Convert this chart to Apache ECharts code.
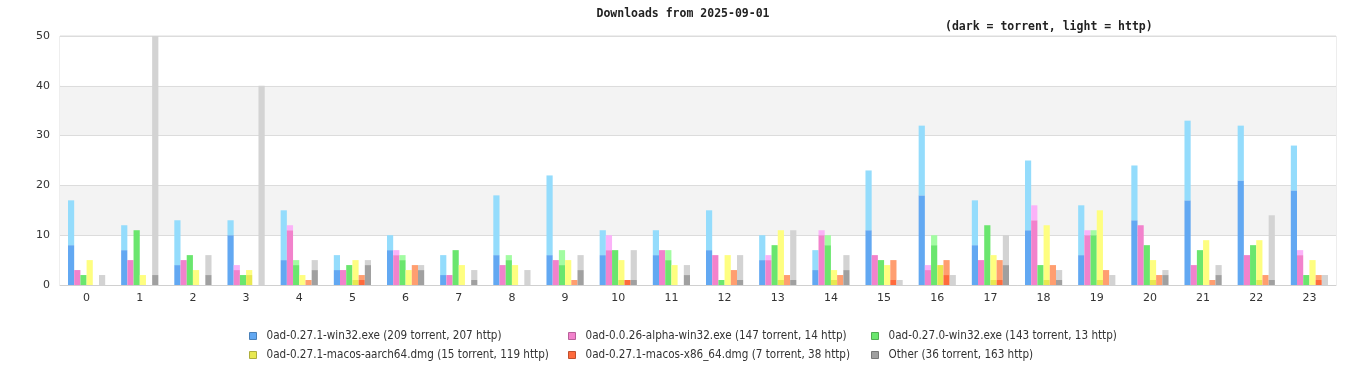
<!DOCTYPE html>
<html>
<head>
<meta charset="utf-8">
<script src="https://cdn.jsdelivr.net/npm/echarts@6/dist/echarts.min.js"></script>
<style>
html,body{margin:0;padding:0;background:#fff;}
#chart{width:1366px;height:380px;}
</style>
</head>
<body>
<div id="chart"></div>
<script>
var hours = ['0','1','2','3','4','5','6','7','8','9','10','11','12','13','14','15','16','17','18','19','20','21','22','23'];

var win32_torrent = [8,7,4,10,5,3,7,2,6,6,6,6,7,5,3,11,18,8,11,6,13,17,21,19];
var win32_http    = [9,5,9,3,10,3,3,4,12,16,5,5,8,5,4,12,14,9,14,10,11,16,11,9];
var alpha_torrent = [3,5,5,3,11,3,6,2,4,5,7,7,6,5,10,6,3,5,13,10,12,4,6,6];
var alpha_http    = [0,0,0,1,1,0,1,0,0,0,3,0,0,1,1,0,1,0,3,1,0,0,0,1];
var w270_torrent  = [2,11,6,2,4,4,5,7,5,4,7,5,1,8,8,5,8,12,4,10,8,7,8,2];
var w270_http     = [0,0,0,0,1,0,1,0,1,3,0,2,0,0,2,0,2,0,0,1,0,0,0,0];
var aarch_torrent = [0,0,0,2,0,1,0,0,0,0,1,0,0,1,1,0,4,1,1,1,1,0,1,0];
var aarch_http    = [5,2,3,1,2,4,3,4,4,5,4,4,6,10,2,4,0,5,11,14,4,9,8,5];
var x86_torrent   = [0,0,0,0,0,1,0,0,0,0,1,0,0,0,0,1,2,1,0,0,0,0,0,1];
var x86_http      = [0,0,0,0,1,1,4,0,0,1,0,0,3,2,2,4,3,4,4,3,2,1,2,1];
var other_torrent = [0,2,2,0,3,4,3,1,0,3,1,2,1,1,3,0,0,4,1,0,2,2,1,0];
var other_http    = [2,48,4,40,2,1,1,2,3,3,6,2,5,10,3,1,2,6,2,2,1,2,13,2];

var seriesNames = [
  '0ad-0.27.1-win32.exe (209 torrent, 207 http)',
  '0ad-0.0.26-alpha-win32.exe (147 torrent, 14 http)',
  '0ad-0.27.0-win32.exe (143 torrent, 13 http)',
  '0ad-0.27.1-macos-aarch64.dmg (15 torrent, 119 http)',
  '0ad-0.27.1-macos-x86_64.dmg (7 torrent, 38 http)',
  'Other (36 torrent, 163 http)'
];
var darkColors  = ['#62a8f2','#f282cc','#6ae66e','#e8e850','#ff6b3d','#a0a0a0'];
var lightColors = ['#94dcfc','#fbb2f8','#a2fca2','#fefe80','#ff9e70','#d3d3d3'];
var borderColors = ['#4a80b8','#b8609a','#50ac52','#aeae3c','#c0502e','#787878'];

var torrentData = [win32_torrent, alpha_torrent, w270_torrent, aarch_torrent, x86_torrent, other_torrent];
var httpData    = [win32_http, alpha_http, w270_http, aarch_http, x86_http, other_http];

var series = [];
for (var i = 0; i < 6; i++) {
  series.push({
    name: seriesNames[i], type: 'bar', stack: 's' + i,
    data: torrentData[i], barCategoryGap: '30%', barGap: '0%',
    itemStyle: { color: darkColors[i] },
    emphasis: { disabled: true }
  });
  series.push({
    name: seriesNames[i], type: 'bar', stack: 's' + i,
    data: httpData[i], barCategoryGap: '30%', barGap: '0%',
    itemStyle: { color: lightColors[i] },
    emphasis: { disabled: true }
  });
}

var legendFont = "'DejaVu Sans Condensed', 'Liberation Sans Narrow', 'DejaVu Sans', sans-serif";
function mkLegend(left, names) {
  return {
    orient: 'vertical', left: left, top: 324,
    icon: 'rect', itemWidth: 7, itemHeight: 7, itemGap: 5,
    data: names.map(function (n) {
      var idx = seriesNames.indexOf(n);
      return { name: n, itemStyle: { color: darkColors[idx], borderColor: borderColors[idx], borderWidth: 1 } };
    }),
    textStyle: { fontFamily: legendFont, fontSize: 11.6, color: '#333', lineHeight: 14, padding: [0,0,0,5] },
    selectedMode: true
  };
}

var chart = echarts.init(document.getElementById('chart'), null, { renderer: 'canvas' });
chart.setOption({
  animation: false,
  backgroundColor: '#fff',
  title: [
    { text: 'Downloads from 2025-09-01', left: 'center', top: 3,
      textStyle: { fontFamily: "'DejaVu Sans Mono', monospace", fontSize: 11.5, fontWeight: 'bold', color: '#222' } },
    { text: '(dark = torrent, light = http)', left: 940, top: 16,
      textStyle: { fontFamily: "'DejaVu Sans Mono', monospace", fontSize: 11.5, fontWeight: 'bold', color: '#222' } }
  ],
  legend: [
    mkLegend(244, [seriesNames[0], seriesNames[3]]),
    mkLegend(563, [seriesNames[1], seriesNames[4]]),
    mkLegend(866, [seriesNames[2], seriesNames[5]])
  ],
  grid: { left: 60, right: 30, top: 36, bottom: 95, show: true, borderColor: '#dcdcdc', borderWidth: 1, backgroundColor: 'transparent' },
  xAxis: {
    type: 'category', data: hours,
    axisLine: { show: true, lineStyle: { color: '#d0d0d0' } },
    axisTick: { show: false },
    axisLabel: { color: '#333', fontSize: 11, fontFamily: "'DejaVu Sans', sans-serif", margin: 8 }
  },
  yAxis: {
    type: 'value', min: 0, max: 50, interval: 10,
    axisLine: { show: false }, axisTick: { show: false },
    axisLabel: { color: '#333', fontSize: 11, fontFamily: "'DejaVu Sans', sans-serif", margin: 10 },
    splitLine: { show: true, lineStyle: { color: '#dcdcdc' } },
    splitArea: { show: true, areaStyle: { color: ['#ffffff', '#f3f3f3'] } }
  },
  series: series
});
</script>
</body>
</html>
